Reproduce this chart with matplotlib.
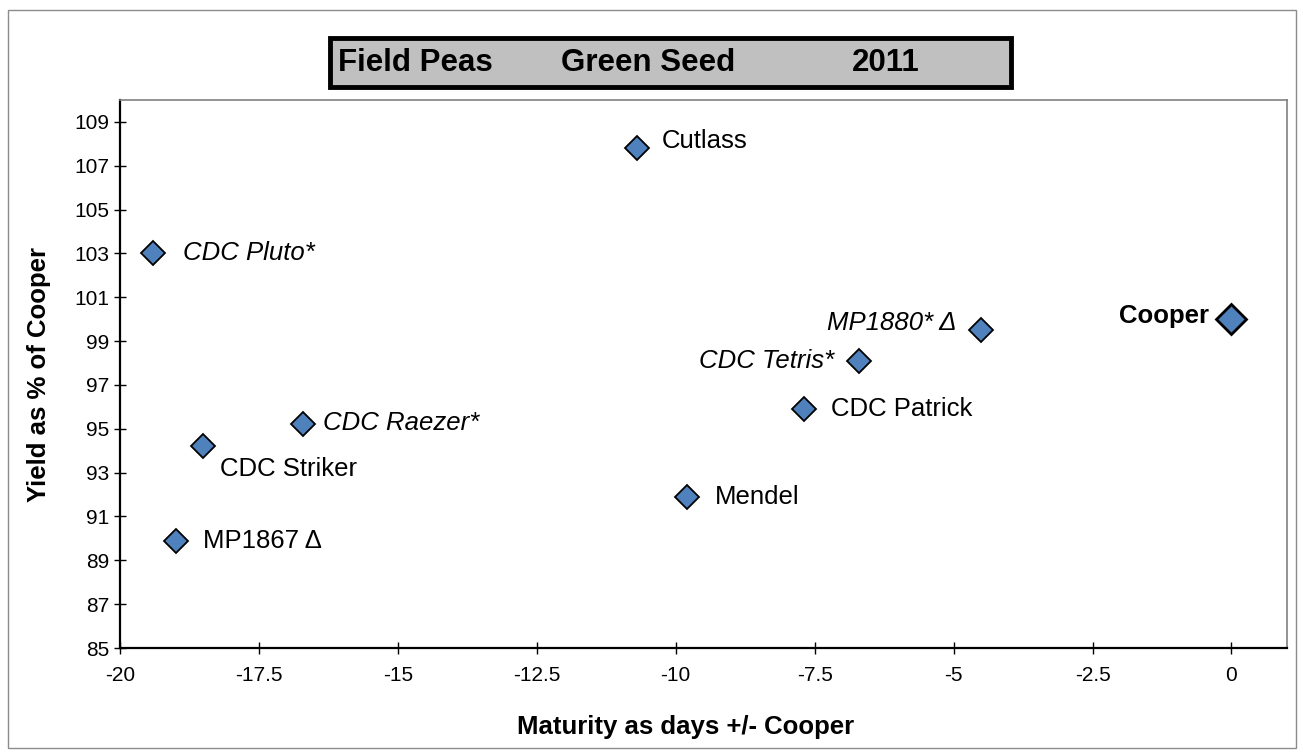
import matplotlib
matplotlib.use("Agg")
import matplotlib.pyplot as plt
from matplotlib.patches import Rectangle

plt.rcParams['font.family'] = ['Liberation Sans', 'DejaVu Sans']

# data
varieties = ['Cutlass', 'CDC Pluto*', 'MP1880* \u0394', 'Cooper', 'CDC Tetris*',
             'CDC Patrick', 'CDC Raezer*', 'CDC Striker', 'Mendel', 'MP1867 \u0394']
maturity = [-10.7, -19.4, -4.5, 0.0, -6.7, -7.7, -16.7, -18.5, -9.8, -19.0]
yield_pct = [107.8, 103.0, 99.5, 100.0, 98.1, 95.9, 95.2, 94.2, 91.9, 89.9]

x_ticks = [-20, -17.5, -15, -12.5, -10, -7.5, -5, -2.5, 0]
x_tick_labels = ['-20', '-17.5', '-15', '-12.5', '-10', '-7.5', '-5', '-2.5', '0']
y_ticks = list(range(85, 110, 2))

# label placement: (dx pt, dy pt, ha, style, weight)
label_fmt = {
    'Cutlass': (18, 5, 'left', 'normal', 'normal'),
    'CDC Pluto*': (21, 0, 'left', 'italic', 'normal'),
    'MP1880* \u0394': (-18, 5, 'right', 'italic', 'normal'),
    'Cooper': (-16, 2, 'right', 'normal', 'bold'),
    'CDC Tetris*': (-18, 0, 'right', 'italic', 'normal'),
    'CDC Patrick': (20, 0, 'left', 'normal', 'normal'),
    'CDC Raezer*': (14, 1, 'left', 'italic', 'normal'),
    'CDC Striker': (12, -16, 'left', 'normal', 'normal'),
    'Mendel': (20, 0, 'left', 'normal', 'normal'),
    'MP1867 \u0394': (20, 0, 'left', 'normal', 'normal'),
}

W, H = 1303, 755
fig = plt.figure(figsize=(W / 100, H / 100), dpi=100)
ax = fig.add_axes([120 / W, 1 - 648 / H, (1287 - 120) / W, (648 - 100) / H])

blue = '#4F81BD'
for name, x, y in zip(varieties, maturity, yield_pct):
    if name == 'Cooper':
        ax.plot(x, y, 'D', ms=15.5, mfc=blue, mec='black', mew=2.0, clip_on=False, zorder=3)
    else:
        ax.plot(x, y, 'D', ms=12.5, mfc=blue, mec='black', mew=1.3, clip_on=False, zorder=3)
    dx, dy, ha, st, wt = label_fmt[name]
    ax.annotate(name, (x, y), xytext=(dx, dy), textcoords='offset points',
                ha=ha, va='center', fontsize=18.5, style=st, weight=wt)

ax.set_xlim(-20, 1)
ax.set_ylim(85, 110)
ax.set_xticks(x_ticks)
ax.set_xticklabels(x_tick_labels)
ax.set_yticks(y_ticks)
ax.tick_params(axis='both', direction='inout', length=8, width=1, labelsize=15)
ax.tick_params(axis='x', pad=9)
ax.tick_params(axis='y', pad=4)

ax.spines['left'].set_linewidth(1.6)
ax.spines['bottom'].set_linewidth(1.6)
ax.spines['top'].set_color('#808080')
ax.spines['right'].set_color('#808080')
ax.spines['top'].set_linewidth(1.2)
ax.spines['right'].set_linewidth(1.2)

fig.text(686 / W, 1 - 727 / H, 'Maturity as days +/- Cooper', ha='center', va='center',
         fontsize=18.5, weight='bold')
fig.text(39 / W, 1 - 375 / H, 'Yield as % of Cooper', ha='center', va='center',
         rotation=90, fontsize=18.5, weight='bold')

# title box
fig.patches.append(Rectangle((330 / W, 1 - 87 / H), 681 / W, 49 / H, transform=fig.transFigure,
                             facecolor='#C0C0C0', edgecolor='black', linewidth=3.5))
for txt, xp in [('Field Peas', 338), ('Green Seed', 561), ('2011', 852)]:
    fig.text(xp / W, 1 - 63 / H, txt, ha='left', va='center', fontsize=22.5, weight='bold')

# outer chart border
fig.patches.append(Rectangle((8 / W, 1 - 748 / H), 1288 / W, 738 / H, transform=fig.transFigure,
                             facecolor='none', edgecolor='#8c8c8c', linewidth=1))

fig.savefig('out.png', dpi=100)
